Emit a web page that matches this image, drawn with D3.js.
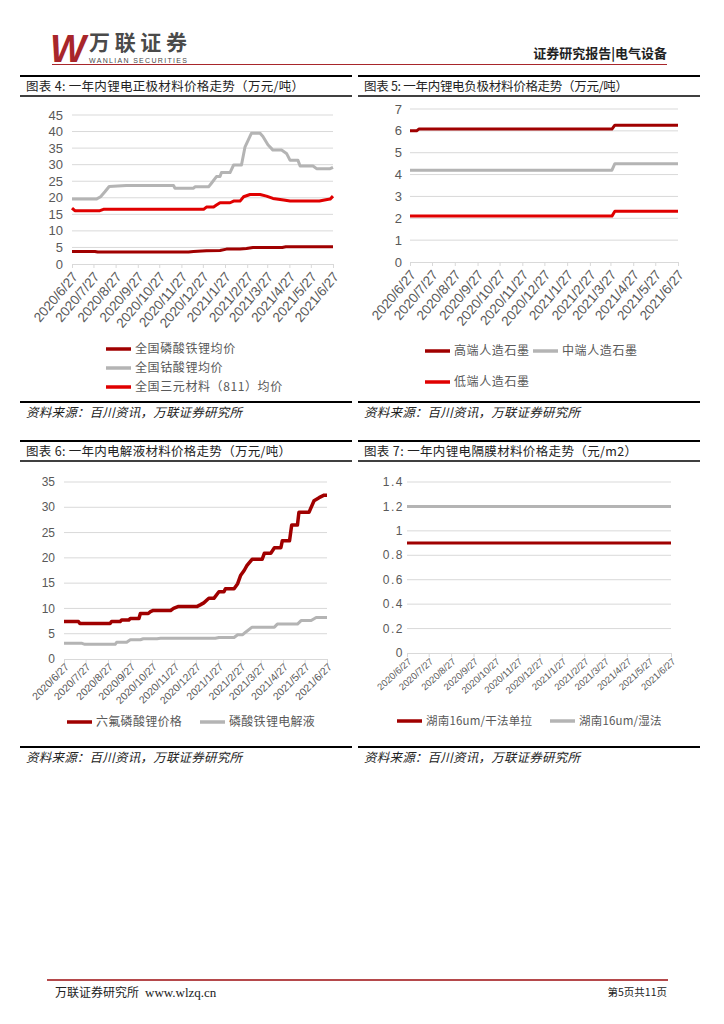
<!DOCTYPE html>
<html>
<head>
<meta charset="utf-8">
<script src="https://cdn.jsdelivr.net/npm/d3@7"></script>
<style>
  body { margin: 0; background: #fff; }
  svg { display: block; font-family: "Noto Sans CJK SC", "Noto Sans", sans-serif; }
</style>
</head>
<body>
<svg id="page" width="724" height="1024"></svg>
<script>
// x axis tick labels shared by all four charts
const xTickLabels = ["2020/6/27", "2020/7/27", "2020/8/27", "2020/9/27", "2020/10/27", "2020/11/27",
  "2020/12/27", "2021/1/27", "2021/2/27", "2021/3/27", "2021/4/27", "2021/5/27", "2021/6/27"];

// chart 4: cathode materials (万元/吨)
const lfpAvg = [["2020/6/27", 3.8], ["2020/7/29", 3.8], ["2020/8/2", 3.6], ["2020/12/7", 3.6], ["2020/12/14", 3.8],
  ["2021/1/1", 4.0], ["2021/1/20", 4.1], ["2021/1/29", 4.5], ["2021/2/17", 4.5], ["2021/2/26", 4.7],
  ["2021/3/7", 5.0], ["2021/4/17", 5.0], ["2021/4/22", 5.2], ["2021/6/27", 5.2]];
const lcoAvg = [["2020/6/27", 19.6], ["2020/7/31", 19.6], ["2020/8/6", 20.3], ["2020/8/12", 21.8], ["2020/8/18", 23.4],
  ["2020/9/11", 23.7], ["2020/11/16", 23.7], ["2020/11/18", 22.9], ["2020/12/14", 22.9], ["2020/12/16", 23.3],
  ["2021/1/4", 23.3], ["2021/1/8", 24.4], ["2021/1/15", 26.4], ["2021/1/20", 26.4], ["2021/1/22", 27.6],
  ["2021/2/3", 27.6], ["2021/2/8", 29.9], ["2021/2/19", 29.9], ["2021/2/24", 35.4], ["2021/3/5", 39.5],
  ["2021/3/17", 39.5], ["2021/3/21", 38.5], ["2021/3/28", 36.0], ["2021/4/4", 34.4], ["2021/4/16", 34.4],
  ["2021/4/23", 33.4], ["2021/4/28", 31.3], ["2021/5/9", 31.3], ["2021/5/12", 29.6], ["2021/5/30", 29.6],
  ["2021/6/4", 28.8], ["2021/6/23", 28.8], ["2021/6/27", 29.2]];
const ncm811Avg = [["2020/6/27", 16.9], ["2020/7/1", 16.1], ["2020/8/5", 16.1], ["2020/8/10", 16.5], ["2020/12/28", 16.5],
  ["2021/1/1", 17.2], ["2021/1/11", 17.2], ["2021/1/15", 17.8], ["2021/1/20", 18.5], ["2021/2/3", 18.5],
  ["2021/2/8", 19.0], ["2021/2/17", 19.0], ["2021/2/22", 20.3], ["2021/3/3", 21.0], ["2021/3/17", 21.0],
  ["2021/3/26", 20.5], ["2021/4/4", 19.8], ["2021/4/19", 19.3], ["2021/4/28", 19.0], ["2021/6/8", 19.0],
  ["2021/6/17", 19.4], ["2021/6/23", 19.6], ["2021/6/27", 20.5]];

// chart 5: anode graphite (万元/吨)
const graphiteHigh = [["2020/6/27", 6.0], ["2020/7/6", 6.0], ["2020/7/9", 6.08], ["2021/3/29", 6.08], ["2021/4/2", 6.26], ["2021/6/27", 6.26]];
const graphiteMid = [["2020/6/27", 4.2], ["2021/3/29", 4.2], ["2021/4/2", 4.5], ["2021/6/27", 4.5]];
const graphiteLow = [["2020/6/27", 2.1], ["2021/3/29", 2.1], ["2021/4/2", 2.32], ["2021/6/27", 2.32]];

// chart 6: electrolyte (万元/吨)
const lipf6Price = [["2020/6/27", 7.4], ["2020/7/17", 7.4], ["2020/7/19", 7.0], ["2020/8/30", 7.0], ["2020/9/1", 7.4],
  ["2020/9/13", 7.4], ["2020/9/15", 7.7], ["2020/9/25", 7.7], ["2020/9/27", 8.0], ["2020/10/9", 8.0],
  ["2020/10/11", 9.0], ["2020/10/22", 9.0], ["2020/10/25", 9.35], ["2020/10/29", 9.6], ["2020/11/22", 9.6],
  ["2020/11/26", 10.0], ["2020/12/3", 10.4], ["2020/12/29", 10.4], ["2021/1/2", 10.7], ["2021/1/7", 11.1],
  ["2021/1/14", 12.0], ["2021/1/21", 12.0], ["2021/1/28", 13.3], ["2021/2/4", 13.3], ["2021/2/6", 13.9],
  ["2021/2/18", 13.9], ["2021/2/23", 14.9], ["2021/2/27", 16.5], ["2021/3/4", 17.5], ["2021/3/8", 18.5],
  ["2021/3/15", 19.7], ["2021/3/29", 19.7], ["2021/4/1", 20.9], ["2021/4/10", 20.9], ["2021/4/15", 22.0],
  ["2021/4/24", 22.0], ["2021/4/26", 23.4], ["2021/5/6", 23.4], ["2021/5/9", 26.5], ["2021/5/17", 26.5],
  ["2021/5/19", 29.0], ["2021/6/2", 29.0], ["2021/6/9", 31.3], ["2021/6/16", 31.9], ["2021/6/23", 32.4],
  ["2021/6/27", 32.4]];
const lfpElectrolyte = [["2020/6/27", 3.1], ["2020/7/22", 3.1], ["2020/7/26", 2.9], ["2020/9/6", 2.9], ["2020/9/8", 3.3],
  ["2020/9/22", 3.3], ["2020/9/27", 3.8], ["2020/10/11", 3.8], ["2020/10/15", 4.0], ["2020/11/3", 4.0],
  ["2020/11/8", 4.1], ["2021/1/23", 4.1], ["2021/1/28", 4.25], ["2021/2/18", 4.25], ["2021/2/23", 4.8],
  ["2021/3/2", 4.8], ["2021/3/6", 5.3], ["2021/3/15", 6.3], ["2021/4/15", 6.3], ["2021/4/19", 6.9],
  ["2021/5/17", 6.9], ["2021/5/22", 7.6], ["2021/6/5", 7.6], ["2021/6/12", 8.2], ["2021/6/27", 8.2]];

// chart 7: separator (元/m2)
const separatorDry = [["2020/6/27", 0.9], ["2021/6/27", 0.9]];
const separatorWet = [["2020/6/27", 1.2], ["2021/6/27", 1.2]];

const DARK = "#a00000", RED = "#e00000", GRAY = "#b4b4b4";

const parseDay = s => { const p = s.split("/").map(Number); return new Date(p[0], p[1] - 1, p[2]); };
const svg = d3.select("#page");

// ---------- page header ----------
svg.append("text").attr("x", 50).attr("y", 62).attr("font-family", "Liberation Sans")
  .attr("font-size", 38).attr("font-weight", "bold").attr("font-style", "italic")
  .attr("fill", "#a8262b").text("W");
svg.append("text").attr("x", 89).attr("y", 50).attr("font-size", 21).attr("font-weight", "bold")
  .attr("fill", "#4a4a4a").attr("textLength", 98).text("万联证券");
svg.append("text").attr("x", 89).attr("y", 63).attr("font-family", "Liberation Sans").attr("font-size", 7)
  .attr("fill", "#4a4a4a").attr("textLength", 98).text("WANLIAN SECURITIES");
svg.append("text").attr("x", 667).attr("y", 58).attr("text-anchor", "end").attr("font-size", 13)
  .attr("font-weight", "bold").attr("fill", "#222").text("证券研究报告|电气设备");
svg.append("line").attr("x1", 52).attr("x2", 667).attr("y1", 64.5).attr("y2", 64.5)
  .attr("stroke", "#a8262b").attr("stroke-width", 1.2);

// ---------- title bars and source lines ----------
function panelFrame(x1, x2, top, title, titleLen, srcY) {
  svg.append("line").attr("x1", x1).attr("x2", x2).attr("y1", top).attr("y2", top)
    .attr("stroke", "#000").attr("stroke-width", 2);
  svg.append("line").attr("x1", x1).attr("x2", x2).attr("y1", top + 20).attr("y2", top + 20)
    .attr("stroke", "#000").attr("stroke-width", 1.6);
  svg.append("text").attr("x", x1 + 6).attr("y", top + 15).attr("font-size", 12.5).attr("fill", "#222")
    .attr("textLength", titleLen).attr("lengthAdjust", "spacing").text(title);
  svg.append("line").attr("x1", x1).attr("x2", x2).attr("y1", srcY).attr("y2", srcY)
    .attr("stroke", "#000").attr("stroke-width", 2);
  svg.append("text").attr("x", x1 + 6).attr("y", srcY + 15).attr("font-size", 12.5).attr("font-style", "italic")
    .attr("fill", "#222").attr("textLength", 216).attr("lengthAdjust", "spacing").text("资料来源：百川资讯，万联证券研究所");
}
panelFrame(20, 352, 76, "图表 4:  一年内锂电正极材料价格走势（万元/吨）", 278, 402);
panelFrame(358, 700, 76, "图表 5:  一年内锂电负极材料价格走势（万元/吨）", 264, 402);
panelFrame(20, 352, 441, "图表 6:  一年内电解液材料价格走势（万元/吨）", 265, 747);
panelFrame(358, 700, 441, "图表 7:  一年内锂电隔膜材料价格走势（元/m2）", 273, 747);

// ---------- chart helper ----------
function drawChart(o) {
  const g = svg.append("g");
  const x = d3.scaleTime().domain([parseDay(xTickLabels[0]), parseDay(xTickLabels[12])]).range([o.x0, o.x1]);
  const y = d3.scaleLinear().domain([0, o.yMax]).range([o.yBase, o.yTop]);
  const yTicks = d3.range(0, o.yMax + 1e-9, o.yStep);

  // gridlines
  g.selectAll(".grid").data(yTicks.filter(v => v > 0)).join("line")
    .attr("x1", o.x0).attr("x2", o.x1).attr("y1", d => y(d)).attr("y2", d => y(d))
    .attr("stroke", "#d9d9d9").attr("stroke-width", 1);

  // y labels
  g.selectAll(".yl").data(yTicks).join("text")
    .attr("x", o.x0 - o.yGap).attr("y", d => y(d)).attr("dy", "0.35em").attr("text-anchor", "end")
    .attr("font-family", "Liberation Sans").attr("font-size", o.yFont).attr("fill", "#595959")
    .attr("letter-spacing", o.ySpacing || 0)
    .text(d => String(+d.toFixed(1)));

  // x axis
  const axis = g.append("g").attr("transform", `translate(0,${o.yBase})`)
    .call(d3.axisBottom(x).tickValues(xTickLabels.map(parseDay)).tickSize(4).tickFormat(""));
  axis.select(".domain").attr("stroke", "#d9d9d9");
  axis.selectAll(".tick line").attr("stroke", "#d9d9d9");

  g.selectAll(".xl").data(xTickLabels).join("text")
    .attr("transform", d => `translate(${x(parseDay(d)) + 3},${o.yBase + o.xGap}) rotate(${o.xRot})`)
    .attr("text-anchor", "end").attr("dy", "0.35em")
    .attr("font-family", "Liberation Sans").attr("font-size", o.xFont).attr("fill", "#595959")
    .text(d => d);

  // series
  const line = d3.line().x(d => x(parseDay(d[0]))).y(d => y(d[1]));
  o.series.forEach(s => {
    g.append("path").datum(s.data).attr("fill", "none").attr("stroke", s.color)
      .attr("stroke-width", s.width).attr("stroke-linejoin", "round").attr("d", line);
  });

  // legend
  o.legend.forEach(l => {
    g.append("line").attr("x1", l.x).attr("x2", l.x + 25).attr("y1", l.y).attr("y2", l.y)
      .attr("stroke", l.color).attr("stroke-width", 3.5);
    g.append("text").attr("x", l.x + 29).attr("y", l.y).attr("dy", "0.36em")
      .attr("font-size", o.legFont).attr("fill", "#595959").attr("letter-spacing", o.legSpacing)
      .text(l.name);
  });
}

drawChart({
  x0: 72, x1: 333, yBase: 264, yTop: 115, yMax: 45, yStep: 5, yGap: 9, yFont: 13,
  xGap: 10, xRot: -50, xFont: 13.5,
  series: [
    { data: lcoAvg, color: GRAY, width: 3 },
    { data: ncm811Avg, color: RED, width: 3 },
    { data: lfpAvg, color: DARK, width: 3 }
  ],
  legFont: 12, legSpacing: 0.6,
  legend: [
    { name: "全国磷酸铁锂均价", color: DARK, x: 106, y: 349 },
    { name: "全国钴酸锂均价", color: GRAY, x: 106, y: 368 },
    { name: "全国三元材料（811）均价", color: RED, x: 106, y: 387 }
  ]
});

drawChart({
  x0: 410, x1: 678, yBase: 262, yTop: 109, yMax: 7, yStep: 1, yGap: 8, yFont: 13,
  xGap: 10, xRot: -50, xFont: 13.5,
  series: [
    { data: graphiteHigh, color: DARK, width: 3 },
    { data: graphiteMid, color: GRAY, width: 3 },
    { data: graphiteLow, color: RED, width: 3 }
  ],
  legFont: 12, legSpacing: 0.6,
  legend: [
    { name: "高端人造石墨", color: DARK, x: 425, y: 351 },
    { name: "中端人造石墨", color: GRAY, x: 533, y: 351 },
    { name: "低端人造石墨", color: RED, x: 425, y: 382 }
  ]
});

drawChart({
  x0: 64, x1: 327, yBase: 659, yTop: 482, yMax: 35, yStep: 5, yGap: 9, yFont: 12,
  xGap: 6, xRot: -45, xFont: 10.5,
  series: [
    { data: lipf6Price, color: DARK, width: 3.5 },
    { data: lfpElectrolyte, color: GRAY, width: 3 }
  ],
  legFont: 12, legSpacing: 0.3,
  legend: [
    { name: "六氟磷酸锂价格", color: DARK, x: 67, y: 722 },
    { name: "磷酸铁锂电解液", color: GRAY, x: 200, y: 722 }
  ]
});

drawChart({
  x0: 407, x1: 671, yBase: 653, yTop: 482, yMax: 1.4, yStep: 0.2, yGap: 3, yFont: 12, ySpacing: 1.5,
  xGap: 7, xRot: -42, xFont: 9.5,
  series: [
    { data: separatorWet, color: GRAY, width: 3 },
    { data: separatorDry, color: DARK, width: 3 }
  ],
  legFont: 11.5, legSpacing: 0.2,
  legend: [
    { name: "湖南16um/干法单拉", color: DARK, x: 397, y: 721 },
    { name: "湖南16um/湿法", color: GRAY, x: 550, y: 721 }
  ]
});

// ---------- footer ----------
svg.append("line").attr("x1", 47).attr("x2", 668).attr("y1", 980).attr("y2", 980)
  .attr("stroke", "#b5494b").attr("stroke-width", 2);
svg.append("text").attr("x", 55).attr("y", 997).attr("font-size", 12).attr("fill", "#222")
  .text("万联证券研究所");
svg.append("text").attr("x", 145).attr("y", 997).attr("font-family", "Liberation Serif").attr("font-size", 13)
  .attr("fill", "#222").text("www.wlzq.cn");
svg.append("text").attr("x", 667).attr("y", 996).attr("text-anchor", "end").attr("font-size", 10.5)
  .attr("fill", "#222").text("第5页共11页");
</script>
</body>
</html>
